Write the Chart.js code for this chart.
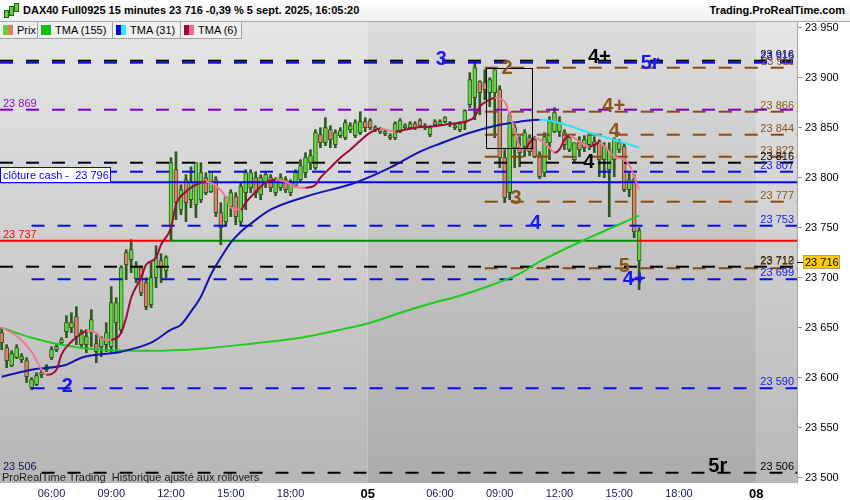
<!DOCTYPE html>
<html>
<head>
<meta charset="utf-8">
<script src="https://cdn.jsdelivr.net/npm/chart.js@4.4.1/dist/chart.umd.min.js"></script>
<style>
body{margin:0;background:#fff;font-family:"Liberation Sans",Arial,sans-serif;}
#wrap{position:relative;width:850px;height:500px;overflow:hidden;}
#head{position:absolute;left:0;top:0;width:850px;height:21px;background:linear-gradient(#ffffff,#f0f0f0);border-bottom:1px solid #a8a8a8;}
#title{position:absolute;left:23px;top:4px;font-weight:bold;font-size:11px;color:#000;white-space:nowrap;}
#brand{position:absolute;right:5px;top:4px;font-weight:bold;font-size:11px;color:#000;}
#ico{position:absolute;left:4px;top:3px;width:14px;height:15px;}
#ico i{position:absolute;width:3px;background:#5fcf3a;border:1px solid #2e5c1e;}
#leg{position:absolute;left:0;top:22px;height:17px;display:flex;}
.lg{box-sizing:border-box;height:17px;border:1px solid #a0a0a0;border-top:none;border-left:none;background:#f0f0f0;font-size:11px;display:flex;align-items:center;padding-left:3px;color:#000;}
.sw{width:10px;height:10px;margin-right:4px;display:flex;}
.sw i{flex:1;}
</style>
</head>
<body>
<div id="wrap">
<canvas id="c" width="850" height="500"></canvas>
<div id="head">
  <div id="ico"><i style="left:0;top:7px;height:6px"></i><i style="left:5px;top:3px;height:8px"></i><i style="left:10px;top:0;height:7px"></i></div>
  <div id="title">DAX40 Full0925 15 minutes 23 716 -0,39 % 5 sept. 2025, 16:05:20</div>
  <div id="brand">Trading.ProRealTime.com</div>
</div>
<div id="leg">
  <div class="lg" style="width:38px"><span class="sw"><i style="background:#5fcf3a"></i><i style="background:#e8756a"></i></span>Prix</div>
  <div class="lg" style="width:75px"><span class="sw"><i style="background:#10c010"></i></span>TMA (155)</div>
  <div class="lg" style="width:68px"><span class="sw"><i style="background:#0a0ac8"></i><i style="background:#20f0ff"></i></span>TMA (31)</div>
  <div class="lg" style="width:61px"><span class="sw"><i style="background:#9a0a3a"></i><i style="background:#f06a90"></i></span>TMA (6)</div>
</div>
</div>
<script>
// 15 min bars, day 04 = bars 0..73, day 05 = bars 74..128
const opens = [23645,23630,23612,23620,23618,23617,23590,23593,23603,23608,23620,23628,23635,23646,23650,23661,23633,23633,23645,23634,
  23631,23633,23631,23655,23648,23725,23718,23699,23710,23695,23673,23700,23717,23707,23751,23808,23768,23798,23778,23773,
  23778,23800,23786,23798,23765,23756,23771,23781,23756,23785,23790,23800,23783,23795,23800,23785,23790,23798,23785,23792,
  23798,23805,23815,23810,23843,23835,23848,23833,23842,23840,23848,23842,23845,23856,23857,23848,23846,23844,23842,23840,
  23847,23850,23850,23854,23857,23850,23843,23856,23853,23856,23853,23852,23848,23855,23873,23880,23896,23895,23885,23885,
  23888,23820,23785,23830,23830,23831,23840,23838,23823,23805,23835,23846,23846,23845,23828,23818,23835,23830,23833,23836,
  23836,23818,23808,23818,23828,23831,23788,23798,23717];
const highs = [23650,23633,23627,23633,23624,23620,23600,23605,23608,23613,23631,23633,23640,23662,23665,23671,23648,23648,23668,23643,
  23641,23655,23691,23680,23712,23728,23738,23716,23712,23700,23715,23732,23724,23722,23820,23826,23793,23803,23811,23815,
  23815,23805,23806,23801,23775,23781,23788,23785,23795,23808,23808,23806,23803,23805,23803,23800,23804,23801,23798,23808,
  23818,23825,23828,23848,23850,23860,23852,23848,23850,23858,23855,23858,23866,23860,23859,23852,23850,23848,23844,23856,
  23859,23854,23856,23856,23859,23854,23852,23858,23858,23861,23856,23854,23856,23868,23905,23915,23897,23908,23900,23908,
  23892,23828,23865,23853,23841,23848,23843,23841,23826,23845,23861,23870,23861,23848,23843,23835,23841,23842,23845,23841,
  23838,23835,23835,23840,23838,23835,23805,23803,23750];
const lows = [23628,23610,23611,23619,23615,23595,23588,23592,23600,23606,23618,23626,23634,23640,23645,23633,23630,23625,23631,23615,
  23621,23626,23625,23626,23645,23698,23705,23695,23682,23668,23670,23690,23695,23700,23738,23758,23763,23756,23770,23760,
  23775,23783,23785,23761,23733,23751,23761,23753,23753,23768,23785,23780,23778,23790,23786,23782,23787,23785,23782,23790,
  23795,23800,23808,23808,23830,23832,23830,23830,23840,23838,23845,23840,23843,23846,23848,23846,23844,23842,23838,23838,
  23845,23848,23848,23848,23850,23848,23841,23852,23852,23855,23851,23848,23846,23848,23870,23858,23863,23878,23871,23840,
  23810,23775,23778,23810,23811,23821,23822,23820,23799,23801,23818,23845,23841,23828,23826,23815,23821,23826,23828,23825,
  23801,23800,23761,23801,23825,23786,23781,23740,23688];
const closes = [23635,23617,23624,23630,23621,23601,23598,23602,23605,23611,23628,23631,23638,23655,23655,23641,23645,23641,23658,23626,
  23640,23645,23675,23675,23710,23713,23728,23711,23685,23671,23700,23720,23710,23720,23815,23775,23788,23775,23795,23815,
  23805,23785,23806,23765,23750,23780,23785,23761,23791,23805,23805,23785,23800,23803,23790,23798,23800,23788,23795,23805,
  23812,23820,23822,23845,23835,23850,23838,23845,23847,23855,23852,23855,23856,23850,23850,23850,23849,23846,23840,23854,
  23857,23852,23854,23850,23852,23852,23850,23853,23856,23860,23855,23850,23854,23867,23898,23910,23885,23888,23898,23908,
  23820,23780,23862,23850,23825,23845,23826,23821,23801,23841,23856,23865,23856,23833,23840,23835,23828,23838,23843,23832,
  23818,23831,23828,23838,23835,23788,23798,23746,23747];

// moving averages, sampled at bar indices
const ma155Bars = [0,6,12,20,30,40,50,60,68,74,80,86,92,98,104,108,118,128];
const ma155 = [23650,23640,23633,23628,23627,23629,23634,23640,23648,23655,23665,23674,23682,23692,23704,23716,23740,23762];
const ma31Bars = [0,6,13,16,24,30,34,36,38,40,42,44,46,48,50,54,61,71,78,84,88,94,100,104,108,112,118,123,128];
const ma31 = [23601,23608,23613,23620,23626,23635,23648,23653,23666,23681,23703,23720,23735,23746,23754,23768,23781,23795,23810,23826,23834,23845,23853,23856,23858,23855,23845,23838,23830];
const ma6Bars = [0,3,6,8,9,11,12,14,16,17,19,20,22,24,25,26,28,29,31,32,34,35,37,39,41,43,45,46,48,49,51,53,55,57,59,61,63,64,66,68,
  70,72,74,76,78,79,81,83,86,89,92,93,95,96,98,99,101,102,103,104,105,106,107,108,110,111,112,113,114,116,118,119,120,122,123,125,126,127,128];
const ma6 = [23650,23642,23626,23608,23603,23608,23623,23636,23644,23647,23645,23639,23638,23645,23660,23680,23700,23713,23720,23733,
  23750,23773,23786,23793,23796,23792,23781,23770,23768,23775,23786,23795,23798,23796,23791,23790,23793,23800,23810,23820,
  23828,23837,23845,23849,23847,23846,23848,23850,23851,23853,23855,23856,23861,23871,23878,23880,23876,23863,23848,23831,
  23828,23835,23840,23838,23830,23825,23828,23838,23842,23836,23831,23833,23835,23826,23821,23818,23813,23801,23788];

// horizontal levels
const levelValues = [23917,23915,23910,23868,23866,23843,23821,23815,23806,23776,23752,23711,23709.5,23698.5,23589.5,23505];
const levelKinds  = ['black','blue','brown','purple','brown','brown','brown','black','blue','brown','blue','black','brown','blue','blue','black'];
const levelFrom   = [0,0,97,0,97,97,97,0,0,97,6,0,97,6,6,8];
const levelTags   = ['23 916','23 915','23 911','','23 866','23 844','23 822','23 816','23 807','23 777','23 753','23 712','23 710','23 699','23 590','23 506'];
const cashClose = 23795.5;
const refLevel = 23737;
const refBreaks = [33.8, 127.8];

// wave labels
const waveText = ['3','2','4+','5r','4+','4','4','3','4','5','4+','2','5r'];
const waveKind = ['blue','brown','black','blue','brown','brown','black','brown','blue','brown','blue','blue','black'];
const waveBar  = [88.3,101.5,120,130.2,122.9,123,117.9,103.3,107.2,125,127,13.2,143.8];
const waveVal  = [23918,23909,23920,23914,23871,23846,23815,23779,23754,23711,23698,23591,23511];
const boxBars = [97.2, 106.5];
const boxVals = [23830, 23910];

const yTicks = [23500,23550,23600,23650,23700,23750,23800,23850,23900,23950];
const xTickBars = [10,22,34,46,58,73.5,88,100,112,124,136,151.5];
const xTickLabels = ['06:00','09:00','12:00','15:00','18:00','05','06:00','09:00','12:00','15:00','18:00','08'];
const dayEdges = [73.5, 151.5];
const lastPrice = 23716;

const X_MIN = -0.34, X_MAX = 159.7, Y_MIN = 23494.7, Y_MAX = 23955.7;
const COL = {black:'#000000', blue:'#0a0af0', brown:'#8a4a10', purple:'#8000c8'};
const TXT = {black:'#000000', blue:'#1818f0', brown:'#8a561a', purple:'#8a10c8'};
const fmt = v => String(v).replace(/\B(?=(\d{3})+(?!\d))/g, ' ');

const wicks = lows.map((l, i) => ({x: i, y: [l, highs[i]]}));
const bodies = opens.map((o, i) => ({x: i, y: [o, closes[i] === o ? o + 0.8 : closes[i]]}));
const bodyColors = opens.map((o, i) => closes[i] >= o ? '#62d83e' : '#ec7d6c');
const pts = (bars, vals) => bars.map((b, i) => ({x: b, y: vals[i]}));

const datasets = [];
// moving averages (drawn on top)
datasets.push({type:'line', data: pts(ma6Bars, ma6), borderWidth: 2, pointRadius: 0, cubicInterpolationMode: 'monotone', order: 0,
  segment: {borderColor: c => c.p1.parsed.y < c.p0.parsed.y ? '#f27898' : '#a00a3c'}, borderColor: '#a00a3c'});
datasets.push({type:'line', data: pts(ma31Bars, ma31), borderWidth: 2, pointRadius: 0, cubicInterpolationMode: 'monotone', order: 1,
  segment: {borderColor: c => c.p1.parsed.y < c.p0.parsed.y ? '#28e4f4' : '#1414b0'}, borderColor: '#1414b0'});
datasets.push({type:'line', data: pts(ma155Bars, ma155), borderWidth: 2, pointRadius: 0, cubicInterpolationMode: 'monotone', order: 2,
  borderColor: '#1ecc1e'});
// levels
levelValues.forEach((v, k) => {
  datasets.push({type:'line', data: [{x: levelFrom[k] === 0 ? X_MIN : levelFrom[k], y: v}, {x: X_MAX, y: v}],
    borderColor: COL[levelKinds[k]], borderWidth: 2, borderDash: [13, 13], pointRadius: 0, order: 3});
});
datasets.push({type:'line', data: [{x: X_MIN, y: cashClose}, {x: X_MAX, y: cashClose}], borderColor: '#0000ff', borderWidth: 2, pointRadius: 0, order: 3});
datasets.push({type:'line', data: [{x: X_MIN, y: refLevel}, {x: refBreaks[0], y: refLevel}, {x: refBreaks[1], y: refLevel}, {x: X_MAX, y: refLevel}],
  borderWidth: 2, pointRadius: 0, order: 3, borderColor: '#ff0000',
  segment: {borderColor: c => c.p0DataIndex === 1 ? '#008a00' : '#ff0000'}});
// candles
datasets.push({type:'bar', data: bodies, backgroundColor: bodyColors, borderColor: '#2c5a1c', borderWidth: 1, borderSkipped: false,
  barThickness: 4, grouped: false, order: 5});
datasets.push({type:'bar', data: wicks, backgroundColor: '#2c5a1c', barThickness: 2, grouped: false, order: 6});

const bgPlugin = {
  id: 'bg',
  beforeDraw(chart) {
    const {ctx, chartArea: a, scales: {x}} = chart;
    const edges = [a.left, x.getPixelForValue(dayEdges[0]), x.getPixelForValue(dayEdges[1]), a.right];
    const tones = [['#e6e6e6', '#b6b6b6'], ['#dcdcdc', '#ababab'], ['#e6e6e6', '#b8b8b8']];
    ctx.save();
    for (let k = 0; k < 3; k++) {
      const g = ctx.createLinearGradient(0, a.top, 0, a.bottom);
      g.addColorStop(0, tones[k][0]); g.addColorStop(1, tones[k][1]);
      ctx.fillStyle = g;
      ctx.fillRect(edges[k], a.top, edges[k + 1] - edges[k], a.bottom - a.top);
    }
    ctx.restore();
  },
  afterDatasetsDraw(chart) {
    const {ctx, chartArea: a, scales: {x, y}} = chart;
    ctx.save();
    ctx.beginPath(); ctx.rect(a.left, a.top, a.right - a.left, a.bottom - a.top); ctx.clip();
    // box
    ctx.strokeStyle = '#000'; ctx.lineWidth = 1;
    const bx0 = Math.round(x.getPixelForValue(boxBars[0])) + 0.5, bx1 = Math.round(x.getPixelForValue(boxBars[1])) + 0.5;
    const by0 = Math.round(y.getPixelForValue(boxVals[1])) + 0.5, by1 = Math.round(y.getPixelForValue(boxVals[0])) + 0.5;
    ctx.strokeRect(bx0, by0, bx1 - bx0, by1 - by0);
    // wave labels
    ctx.font = 'bold 20px "Liberation Sans", Arial, sans-serif';
    ctx.textAlign = 'center'; ctx.textBaseline = 'middle';
    waveText.forEach((t, k) => {
      ctx.fillStyle = TXT[waveKind[k]];
      ctx.fillText(t, x.getPixelForValue(waveBar[k]), y.getPixelForValue(waveVal[k]));
    });
    // right side level tags
    ctx.font = '11px "Liberation Sans", Arial, sans-serif';
    ctx.textAlign = 'right'; ctx.textBaseline = 'alphabetic';
    levelValues.forEach((v, k) => {
      if (!levelTags[k]) return;
      ctx.fillStyle = TXT[levelKinds[k]];
      ctx.fillText(levelTags[k], a.right - 3, y.getPixelForValue(v) - 3);
    });
    // left side tags
    ctx.textAlign = 'left';
    ctx.fillStyle = TXT.purple; ctx.fillText(fmt(23869), a.left + 3, y.getPixelForValue(levelValues[3]) - 3);
    ctx.fillStyle = '#ff0000'; ctx.fillText(fmt(refLevel), a.left + 3, y.getPixelForValue(refLevel) - 3);
    ctx.fillStyle = '#101060'; ctx.fillText(fmt(23506), a.left + 3, y.getPixelForValue(levelValues[15]) - 3);
    const cy = Math.round(y.getPixelForValue(cashClose));
    ctx.fillStyle = '#fff'; ctx.fillRect(a.left, cy - 15, 110, 16);
    ctx.strokeStyle = '#0000ff'; ctx.strokeRect(a.left + 0.5, cy - 14.5, 110, 15);
    ctx.fillStyle = '#0000ff'; ctx.fillText('clôture cash -  ' + fmt(23796), a.left + 3, cy - 3);
    ctx.fillStyle = '#1a1a1a'; ctx.fillText('ProRealTime Trading  Historique ajusté aux rollovers', a.left + 2, a.bottom - 2);
    ctx.restore();
    // last price tag on axis
    const py = Math.round(y.getPixelForValue(lastPrice));
    ctx.save();
    ctx.fillStyle = '#ffcc00'; ctx.fillRect(a.right + 6, py - 7, 36, 14);
    ctx.strokeStyle = '#b0a070'; ctx.strokeRect(a.right + 6.5, py - 6.5, 36, 13);
    ctx.strokeStyle = '#000'; ctx.beginPath(); ctx.moveTo(a.right, py + 0.5); ctx.lineTo(a.right + 6, py + 0.5); ctx.stroke();
    ctx.fillStyle = '#000'; ctx.font = '11px "Liberation Sans", Arial, sans-serif'; ctx.textBaseline = 'middle';
    ctx.fillText(fmt(lastPrice), a.right + 8, py + 1);
    ctx.restore();
  }
};

new Chart(document.getElementById('c'), {
  type: 'bar',
  data: {datasets},
  plugins: [bgPlugin],
  options: {
    responsive: false, animation: false, devicePixelRatio: 1,
    layout: {padding: {top: 22, left: 0, right: 0, bottom: 0}},
    plugins: {legend: {display: false}, tooltip: {enabled: false}},
    scales: {
      x: {
        type: 'linear', min: X_MIN, max: X_MAX, offset: false,
        afterBuildTicks: s => { s.ticks = xTickBars.map(v => ({value: v})); },
        afterFit: s => { s.height = 17; },
        grid: {display: false}, border: {display: false},
        ticks: {
          autoSkip: false, maxRotation: 0, padding: -4,
          callback: (v, i) => xTickLabels[i],
          color: c => xTickLabels[c.index] && xTickLabels[c.index].length === 2 ? '#000' : '#1a1a5a',
          font: c => xTickLabels[c.index] && xTickLabels[c.index].length === 2
            ? {family: '"Liberation Sans", Arial, sans-serif', size: 13, weight: 'bold'}
            : {family: '"Liberation Sans", Arial, sans-serif', size: 11}
        }
      },
      y: {
        type: 'linear', position: 'right', min: Y_MIN, max: Y_MAX,
        afterBuildTicks: s => { s.ticks = yTicks.map(v => ({value: v})); },
        afterFit: s => { s.width = 53; },
        grid: {drawOnChartArea: false, tickLength: 5, color: '#909090'},
        border: {color: '#a8a8a8'},
        ticks: {padding: 3, color: '#000', font: {family: '"Liberation Sans", Arial, sans-serif', size: 11}, callback: v => fmt(v)}
      }
    }
  }
});
</script>
</body>
</html>
